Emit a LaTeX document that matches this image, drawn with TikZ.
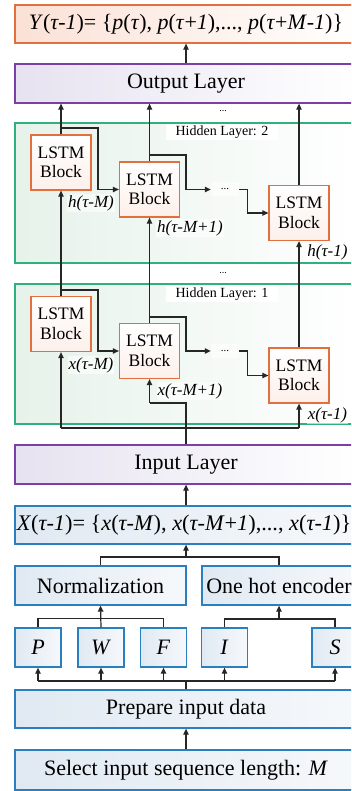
\documentclass[tikz,border=0pt]{standalone}
\usepackage{fontspec}
\setmainfont{Liberation Serif}
\usetikzlibrary{arrows.meta}
\definecolor{orB}{HTML}{E2703F}
\definecolor{orF}{HTML}{FBE1D6}
\definecolor{puB}{HTML}{7B3FA6}
\definecolor{puF}{HTML}{E6E2F0}
\definecolor{grB}{HTML}{2FB07E}
\definecolor{grF}{HTML}{E6F2EA}
\definecolor{blB}{HTML}{2A7FBF}
\definecolor{blF}{HTML}{E0E9F2}
\definecolor{ln}{HTML}{262626}
\tikzset{
  box/.style={inner sep=0pt, line width=1.3pt, align=center, font=\fontsize{22}{24}\selectfont},
  ybox/.style={box, draw=orB, left color=orF, right color=white},
  pbox/.style={box, draw=puB, left color=puF, right color=white},
  hbox/.style={inner sep=0pt, line width=1.3pt, draw=grB, left color=grF, right color=white},
  bbox/.style={box, draw=blB, left color=blF, right color=blF!30!white},
  lstm/.style={inner sep=0pt, line width=1.3pt, draw=orB, top color=white, bottom color=orF!50!white,
     minimum width=60pt, minimum height=55pt, align=center, font=\fontsize{17.5}{19.5}\selectfont},
  lab/.style={inner sep=1pt, fill=white, fill opacity=0.6, text opacity=1, font=\fontsize{17}{19}\selectfont\itshape},
  hlab/.style={inner xsep=10pt, inner ysep=2pt, fill=white, font=\fontsize{14}{16}\selectfont},
  dots/.style={inner sep=0pt, minimum width=28pt, minimum height=14pt, fill=white, fill opacity=0.6, text opacity=1, font=\fontsize{11}{12}\selectfont},
  arr/.style={line width=1.2pt, draw=ln, -{Triangle[length=6pt,width=5.5pt]}},
  ln/.style={line width=1.2pt, draw=ln},
}
\begin{document}
\begin{tikzpicture}[x=1pt,y=-1pt]
\useasboundingbox (0,0) rectangle (351,791);
\clip (0,0) rectangle (351,791);
\fill[white] (0,0) rectangle (351,791);
% top
\node[ybox, minimum width=342pt, minimum height=38pt] (yb) at (186,24)
 {\textit{Y}(\textit{τ-1})= \{\textit{p}(\textit{τ}), \textit{p}(\textit{τ}+\textit{1}),..., \textit{p}(\textit{τ}+\textit{M}-\textit{1})\}};
\node[pbox, minimum width=342pt, minimum height=39pt] (out) at (186,83.5) {Output Layer};
\node[font=\fontsize{10}{11}\selectfont, inner sep=0pt] (d0) at (223,111) {...};
% hidden layer 2
\node[hbox, minimum width=342pt, minimum height=140pt] (hl2) at (186,193) {};
\node[hlab] (hl2t) at (222,132) {Hidden Layer: 2};
\node[lstm] (b21) at (61,162.5) {LSTM\\Block};
\node[lstm] (b22) at (149.5,189.5) {LSTM\\Block};
\node[lstm] (b23) at (299,213) {LSTM\\Block};
\node[dots] (dt2) at (225,189.5) {...};
\node[font=\fontsize{10}{11}\selectfont, inner sep=0pt] (d1) at (223,273) {...};
% hidden layer 1
\node[hbox, minimum width=342pt, minimum height=140pt] (hl1) at (186,354) {};
\node[hlab] (hl1t) at (222,294) {Hidden Layer: 1};
\node[lstm] (b11) at (61,324) {LSTM\\Block};
\node[lstm] (b12) at (149.5,351) {LSTM\\Block};
\node[lstm] (b13) at (299,375.5) {LSTM\\Block};
\node[dots] (dt1) at (225,351) {...};
% input side
\node[pbox, minimum width=342pt, minimum height=39pt] (inp) at (186,464.5) {Input Layer};
\node[bbox, minimum width=342pt, minimum height=38pt] (xb) at (186,525) {};
\node[inner sep=0pt, font=\fontsize{22.3}{24}\selectfont] (xt) at (184,525)
 {\textit{X}(\textit{τ-1})= \{\textit{x}(\textit{τ-M}), \textit{x}(\textit{τ-M}+\textit{1}),..., \textit{x}(\textit{τ-1})\}};
\node[bbox, minimum width=171pt, minimum height=39pt] (nb) at (100.5,585.5) {Normalization};
\node[bbox, minimum width=154pt, minimum height=39pt] (ob) at (279,585.5) {One hot encoder};
\node[bbox, minimum width=46pt, minimum height=39pt] (P) at (38,647.5) {\textit{P}};
\node[bbox, minimum width=46pt, minimum height=39pt] (W) at (101,647.5) {\textit{W}};
\node[bbox, minimum width=46pt, minimum height=39pt] (F) at (163.5,647.5) {\textit{F}};
\node[bbox, minimum width=46pt, minimum height=39pt] (I) at (224.5,647.5) {\textit{I}};
\node[bbox, minimum width=46pt, minimum height=39pt] (S) at (335,647.5) {\textit{S}};
\node[bbox, minimum width=342pt, minimum height=38pt] (prep) at (186,709) {Prepare input data};
\node[bbox, minimum width=342pt, minimum height=40pt] (sel) at (186,770) {Select input sequence length: \textit{M}};
% arrows top
\draw[arr] (out.north) -- (yb.south);
\draw[arr] (b21.north) -- (b21.north |- out.south);
\draw[arr] (b22.north) -- (b22.north |- out.south);
\draw[arr] (b23.north) -- (b23.north |- out.south);
% chain HL2
\coordinate (j21) at (61,128);
\coordinate (j22) at (149.5,155);
\draw[arr] (j21) -- ++(37,0) |- (b22.west);
\draw[arr] (j22) -- ++(36.5,0) |- (dt2.west);
\draw[arr] (dt2.east) -- ++(8,0) |- (b23.west);
% between layers
\draw[arr] (b11.north) -- (b21.south);
\draw[arr] (b12.north) -- (b22.south);
\draw[arr] (b13.north) -- (b23.south);
% chain HL1
\coordinate (j11) at (61,290);
\coordinate (j12) at (149.5,317);
\draw[arr] (j11) -- ++(37,0) |- (b12.west);
\draw[arr] (j12) -- ++(36.5,0) |- (dt1.west);
\draw[arr] (dt1.east) -- ++(8,0) |- (b13.west);
% labels
\node[lab] (h1) at (91,203) {h(τ-M)};
\node[lab] (h2) at (190,228) {h(τ-M+1)};
\node[lab] (h3) at (327.5,252) {h(τ-1)};
\node[lab] (x1) at (91,365) {x(τ-M)};
\node[lab] (x2) at (190,391) {x(τ-M+1)};
\node[lab] (x3) at (327.5,415) {x(τ-1)};
% input distribution
\coordinate (k2) at (149.5,403);
\draw[ln] (inp.north) |- (k2);
\draw[arr] (k2) -- (b12.south);
\coordinate (k1) at (61,428);
\coordinate (k3) at (299,428);
\draw[ln] (k1) -- (k3);
\draw[arr] (k1) -- (b11.south);
\draw[arr] (k3) -- (b13.south);
% bottom part
\draw[arr] (xb.north) -- (inp.south);
\coordinate (m0) at (186,557);
\draw[ln] (nb.north) |- (m0) -| (ob.north);
\draw[arr] (m0) -- (xb.south);
\draw[ln] (P.north) -- ++(0,-9) -| (F.north);
\draw[arr] (W.north) -- (nb.south);
\coordinate (m1) at (279,619);
\draw[ln] (I.north) |- (m1) -| (S.north);
\draw[arr] (m1) -- (ob.south);
\coordinate (q0) at (186,681);
\draw[ln] (prep.north) -- (q0);
\draw[ln] (P.south |- q0) -- (S.south |- q0);
\foreach \b in {P,W,F,I,S} { \draw[arr] (\b.south |- q0) -- (\b.south); }
\draw[arr] (sel.north) -- (prep.south);
\end{tikzpicture}
\end{document}
